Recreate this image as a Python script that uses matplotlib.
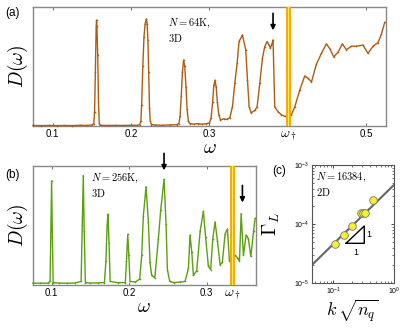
import matplotlib
matplotlib.use("Agg")
import matplotlib.pyplot as plt
import numpy as np

plt.rcParams['mathtext.fontset'] = 'cm'
plt.rcParams['font.family'] = ['Liberation Sans', 'DejaVu Sans']

# (a) N = 64K, 3D
w_a = [0.075, 0.085, 0.095, 0.105, 0.115, 0.125, 0.135, 0.143, 0.150, 0.1525,
       0.1535, 0.1545, 0.1555, 0.156, 0.1565, 0.1575, 0.1585, 0.1595, 0.161,
       0.170, 0.180, 0.190, 0.200, 0.207, 0.211, 0.2125,
       0.2135, 0.2150, 0.2165, 0.2180, 0.2195, 0.2205, 0.2215, 0.2225, 0.2235, 0.2245, 0.226,
       0.230, 0.240, 0.250, 0.258, 0.261,
       0.2625, 0.264, 0.2655, 0.267, 0.2685, 0.270, 0.2715, 0.273, 0.275,
       0.280, 0.285, 0.290, 0.295, 0.300,
       0.302, 0.304, 0.3055, 0.307, 0.3085, 0.310, 0.312, 0.314,
       0.318, 0.322, 0.326, 0.3293, 0.3323, 0.3352, 0.3377, 0.342, 0.3462, 0.3484,
       0.3505, 0.353, 0.3577, 0.3607, 0.3641, 0.3675, 0.3704, 0.3734, 0.3759, 0.3776,
       0.3802, 0.381, 0.3832, 0.3874, 0.3917, 0.396, 0.4044, 0.4087, 0.415, 0.4214,
       0.4256, 0.430, 0.4363, 0.4427, 0.449, 0.4533, 0.4584, 0.4639, 0.4694, 0.4745,
       0.4809, 0.4873, 0.4957, 0.502, 0.5084, 0.5148, 0.5191, 0.5233]
D_a = [0.004, 0.003, 0.004, 0.003, 0.004, 0.003, 0.006, 0.004, 0.008, 0.02,
       0.12, 0.45, 0.82, 0.89, 0.84, 0.60, 0.20, 0.02, 0.006,
       0.004, 0.005, 0.004, 0.006, 0.005, 0.01, 0.04,
       0.18, 0.50, 0.75, 0.86, 0.90, 0.86, 0.72, 0.45, 0.15, 0.04, 0.012,
       0.008, 0.006, 0.009, 0.01, 0.02,
       0.08, 0.25, 0.45, 0.555, 0.50, 0.33, 0.14, 0.04, 0.02,
       0.015, 0.02, 0.015, 0.018, 0.025,
       0.07, 0.20, 0.34, 0.385, 0.33, 0.20, 0.09, 0.05,
       0.06, 0.055, 0.07, 0.163, 0.36, 0.527, 0.71, 0.765, 0.64, 0.387,
       0.163, 0.11, 0.13, 0.16, 0.36, 0.57, 0.667, 0.709, 0.68, 0.653,
       0.70, 0.723, 0.16, 0.12, 0.094, 0.08, 0.094, 0.16, 0.30, 0.42,
       0.40, 0.37, 0.52, 0.61, 0.69, 0.65, 0.58, 0.62, 0.69, 0.64,
       0.67, 0.67, 0.68, 0.61, 0.67, 0.70, 0.77, 0.87]

# (b) N = 256K, 3D
w_b = [0.076, 0.085, 0.095, 0.098, 0.099, 0.100, 0.101, 0.102, 0.110, 0.120, 0.130,
       0.138, 0.1395, 0.1408, 0.142, 0.1435, 0.150, 0.160, 0.168,
       0.170, 0.1715, 0.1726, 0.174, 0.1755, 0.185, 0.195,
       0.1965, 0.1981, 0.1995, 0.201, 0.208, 0.2135, 0.2161, 0.2182, 0.2217, 0.2247,
       0.2268, 0.229, 0.233, 0.2376, 0.2406, 0.2449, 0.2475, 0.2492, 0.2522,
       0.258, 0.265, 0.272, 0.2763, 0.2784, 0.2806, 0.2827, 0.2870, 0.2914, 0.2956,
       0.2985, 0.302, 0.305, 0.3077, 0.3107, 0.3137, 0.3172, 0.320, 0.3236, 0.3266,
       0.3292, 0.3365, 0.3395, 0.3421, 0.3443, 0.3472, 0.3507, 0.3535, 0.3568, 0.3602,
       0.3623]
D_b = [0.015, 0.016, 0.015, 0.03, 0.45, 0.876, 0.40, 0.02, 0.016, 0.015, 0.017,
       0.03, 0.50, 0.92, 0.45, 0.02, 0.016, 0.018, 0.02,
       0.20, 0.50, 0.594, 0.35, 0.03, 0.02, 0.02,
       0.20, 0.426, 0.25, 0.03, 0.025, 0.05, 0.25, 0.58, 0.826, 0.53,
       0.19, 0.08, 0.06, 0.39, 0.63, 0.888, 0.51, 0.13, 0.03,
       0.02, 0.025, 0.03, 0.14, 0.42, 0.28, 0.08, 0.12, 0.45, 0.62,
       0.40, 0.16, 0.13, 0.39, 0.53, 0.37, 0.17, 0.19, 0.43, 0.47,
       0.20, 0.25, 0.23, 0.20, 0.60, 0.25, 0.42, 0.39, 0.24, 0.45,
       0.56]

# (c) N = 16384, 2D
kn_c = [0.106, 0.148, 0.206, 0.282, 0.313, 0.328, 0.456]
gam_c = [4.56e-5, 6.56e-5, 9.2e-5, 1.56e-4, 1.55e-4, 1.55e-4, 2.56e-4]
fit_x = [0.03, 1.0]
fit_y = [0.03 * 4.6e-4, 4.6e-4]

brown = '#b05c10'
green = '#5aa010'
spine = '#888888'


def style(ax):
    for s in ax.spines.values():
        s.set_color(spine)
        s.set_linewidth(1.0)
    ax.tick_params(direction='in', top=True, left=False, labelleft=False,
                   length=2, width=0.6, color='#555555', labelsize=7, pad=2)
    ax.get_xticklabels()[-1 if len(ax.get_xticks()) == 4 else 3].set_fontsize(10)


fig = plt.figure(figsize=(4.15, 3.28), dpi=100)

# panel (a)
ax = fig.add_axes([0.0795, 0.616, 0.8506, 0.3628])
ax.plot(w_a, D_a, color=brown, lw=1.0, marker='+', ms=2, mew=0.4, clip_on=False, zorder=3)
ax.axvline(0.4, color='#ffa200', lw=3.5, zorder=4)
ax.axvline(0.4, color='#ffee60', lw=0.8, zorder=5)
ax.set_xlim(0.075, 0.525)
ax.set_ylim(0, 1)
ax.set_xticks([0.1, 0.2, 0.3, 0.4, 0.5])
ax.set_xticklabels(['0.1', '0.2', '0.3', r'$\omega_\dagger$', '0.5'])
style(ax)
ax.set_xlabel(r'$\omega$', fontsize=14, labelpad=-2)
ax.set_ylabel(r'$D(\omega)$', fontsize=14, labelpad=2)
ax.text(0.247, 0.92, r'$N = 64\mathrm{K},$' + '\n' + r'$\mathrm{3D}$', fontsize=7.5,
        va='top', linespacing=1.2)
ax.annotate('', xy=(0.381, 0.78), xytext=(0.381, 0.97),
            arrowprops=dict(arrowstyle='-|>', color='black', lw=1.2, mutation_scale=7))
fig.text(0.012, 0.978, '(a)', fontsize=8.5, va='top')

# panel (b)
ax = fig.add_axes([0.0795, 0.1311, 0.5366, 0.3628])
ax.plot(w_b, D_b, color=green, lw=1.0, marker='+', ms=2, mew=0.4, clip_on=False, zorder=3)
ax.axvline(0.3323, color='#ffa200', lw=3.5, zorder=4)
ax.axvline(0.3323, color='#ffee60', lw=0.8, zorder=5)
ax.set_xlim(0.076, 0.363)
ax.set_ylim(0, 1)
ax.set_xticks([0.1, 0.2, 0.3, 0.3323])
ax.set_xticklabels(['0.1', '0.2', '0.3', r'$\omega_\dagger$'])
style(ax)
ax.set_xlabel(r'$\omega$', fontsize=14, labelpad=-2)
ax.set_ylabel(r'$D(\omega)$', fontsize=14, labelpad=2)
ax.text(0.1507, 0.95, r'$N = 256\mathrm{K},$' + '\n' + r'$\mathrm{3D}$', fontsize=7.5,
        va='top', linespacing=1.2)
ax.annotate('', xy=(0.2449, 0.94), xytext=(0.2449, 1.13),
            arrowprops=dict(arrowstyle='-|>', color='black', lw=1.2, mutation_scale=7))
ax.annotate('', xy=(0.3459, 0.67), xytext=(0.3459, 0.86),
            arrowprops=dict(arrowstyle='-|>', color='black', lw=1.2, mutation_scale=7))
fig.text(0.012, 0.485, '(b)', fontsize=8.5, va='top')

# panel (c)
ax = fig.add_axes([0.751, 0.1363, 0.1983, 0.3607])
ax.plot(fit_x, fit_y, color='#666666', lw=1.5, zorder=2)
ax.plot(kn_c, gam_c, 'o', ms=5.5, mfc='#f5f032', mec='#777777', mew=0.6, zorder=3)
ax.set_xscale('log')
ax.set_yscale('log')
ax.set_xlim(0.044, 1.0)
ax.set_ylim(1e-5, 1e-3)
for s in ax.spines.values():
    s.set_color('#555555')
    s.set_linewidth(0.8)
ax.tick_params(which='both', direction='in', top=True, right=True, labelsize=5, pad=2)
ax.tick_params(which='major', length=2.5, width=0.5)
ax.tick_params(which='minor', length=1.2, width=0.4)
ax.plot([0.162, 0.324, 0.324, 0.162], [4.74e-5, 4.74e-5, 9.3e-5, 4.74e-5],
        color='black', lw=1.0, zorder=2)
ax.text(0.345, 6.8e-5, '1', fontsize=6.5, va='center', ha='left')
ax.text(0.235, 3.9e-5, '1', fontsize=6.5, va='top', ha='center')
ax.text(0.052, 8e-4, r'$N = 16384,$' + '\n' + r'$\mathrm{2D}$', fontsize=7.5,
        va='top', linespacing=1.2)
ax.set_xlabel(r'$k\,\sqrt{n_q}$', fontsize=13, labelpad=0)
ax.set_ylabel(r'$\Gamma_L$', fontsize=14)
ax.yaxis.set_label_coords(-0.36, 0.5)
fig.text(0.655, 0.497, '(c)', fontsize=8.5, va='top')

fig.savefig('out.png', dpi=100)
